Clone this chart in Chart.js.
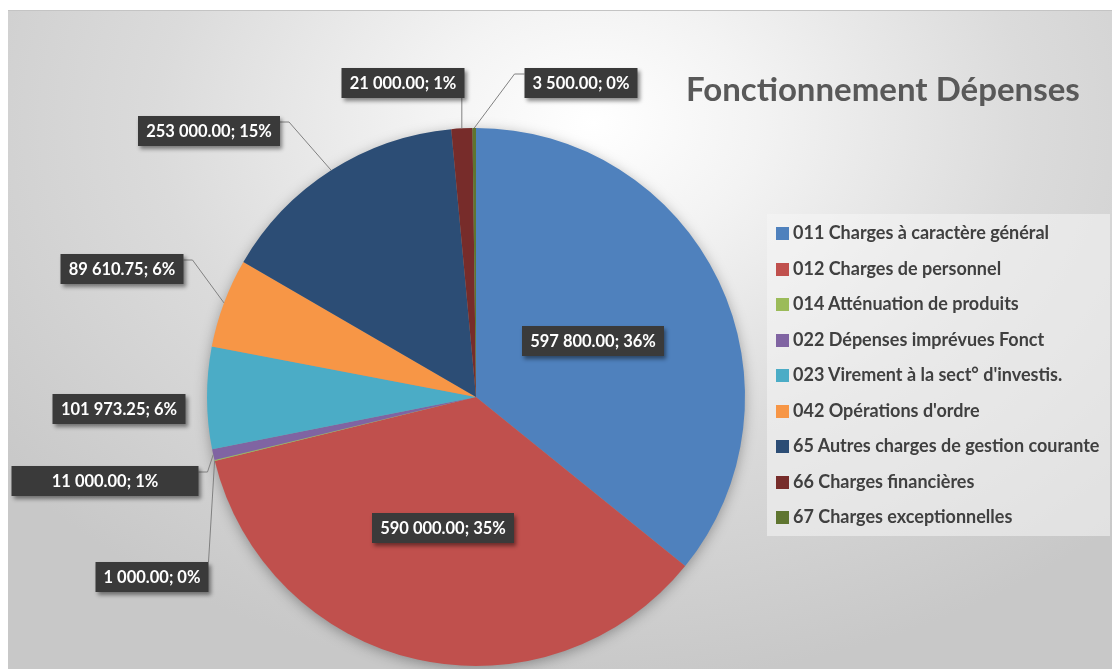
<!DOCTYPE html>
<html>
<head>
<meta charset="utf-8">
<script src="https://cdn.jsdelivr.net/npm/chart.js@4.4.0/dist/chart.umd.min.js"></script>
<style>
  html, body { margin: 0; padding: 0; background: #fff; }
  #wrap { position: relative; width: 1112px; height: 669px; overflow: hidden; font-family: Lato, "Open Sans", sans-serif; }
  #bg {
    position: absolute; left: 8px; top: 10px; width: 1104px; height: 659px;
    border-top: 1px solid #c4c4c4;
    background: radial-gradient(ellipse 68% 85% at 53% 17%, #ffffff 0%, #f3f3f3 22%, #dbdbdb 58%, #c8c8c8 100%);
  }
  #chart { position: absolute; left: 0; top: 0; }
  #title {
    position: absolute; left: 686px; top: 68px; font-size: 33px; font-weight: bold;
    color: #595959; line-height: 40px; white-space: nowrap;
  }
  #legend {
    position: absolute; left: 767px; top: 214px; width: 343px; height: 322px;
    background: rgba(246,246,246,0.55); padding-top: 1px; box-sizing: border-box;
  }
  .item { height: 35.5px; line-height: 35.5px; font-size: 18px; font-weight: bold; color: #404040; white-space: nowrap; }
  .sw { display: inline-block; width: 13px; height: 13px; margin: 0 4px 0 9px; vertical-align: -1px; }
</style>
</head>
<body>
<div id="wrap">
  <div id="bg"></div>
  <canvas id="chart" width="1112" height="669"></canvas>
  <div id="title">Fonctionnement Dépenses</div>
  <div id="legend"></div>
</div>
<script>
const categories = [
  "011 Charges à caractère général",
  "012 Charges de personnel",
  "014 Atténuation de produits",
  "022 Dépenses imprévues Fonct",
  "023 Virement à la sect° d'investis.",
  "042 Opérations d'ordre",
  "65 Autres charges de gestion courante",
  "66 Charges financières",
  "67 Charges exceptionnelles"
];
const values = [597800, 590000, 1000, 11000, 101973.25, 89610.75, 253000, 21000, 3500];
const percentLabels = [36, 35, 0, 1, 6, 6, 15, 1, 0];
const colors = ["#4f81bd", "#c0504d", "#9bbb59", "#8064a2", "#4bacc6", "#f79646", "#2c4d75", "#772c2a", "#5f7530"];

// label box centre relative to pie centre, and where the leader line leaves the box
const labelLayout = [
  { dx: 117, dy: -56, leader: "none" },
  { dx: -33, dy: 131, leader: "none" },
  { dx: -324, dy: 180, leader: "top" },
  { dx: -371, dy: 84, leader: "right", w: 187 },
  { dx: -357, dy: 12, leader: "none" },
  { dx: -354, dy: -128, leader: "right" },
  { dx: -267, dy: -266, leader: "right" },
  { dx: -73, dy: -314, leader: "bottom" },
  { dx: 105, dy: -314, leader: "left" }
];

function fmt(v) {
  const parts = v.toFixed(2).split(".");
  parts[0] = parts[0].replace(/\B(?=(\d{3})+(?!\d))/g, " ");
  return parts[0] + "." + parts[1];
}

// legend
const legendEl = document.getElementById("legend");
categories.forEach((c, i) => {
  const d = document.createElement("div");
  d.className = "item";
  d.innerHTML = `<span class="sw" style="background:${colors[i]}"></span>${c}`;
  legendEl.appendChild(d);
});

const pieShadow = {
  id: "pieShadow",
  beforeDatasetsDraw(chart) {
    const arc = chart.getDatasetMeta(0).data[0];
    if (!arc) return;
    const ctx = chart.ctx;
    ctx.save();
    ctx.shadowColor = "rgba(0,0,0,0.35)";
    ctx.shadowBlur = 14;
    ctx.shadowOffsetY = 3;
    ctx.fillStyle = "#999";
    ctx.beginPath();
    ctx.arc(arc.x, arc.y, arc.outerRadius - 1, 0, Math.PI * 2);
    ctx.fill();
    ctx.restore();
  }
};

const dataLabels = {
  id: "dataLabels",
  afterDatasetsDraw(chart) {
    const ctx = chart.ctx;
    const arcs = chart.getDatasetMeta(0).data;
    ctx.save();
    ctx.font = "bold 16.5px Lato, 'Open Sans', sans-serif";
    const boxes = arcs.map((arc, i) => {
      const p = arc.getProps(["x", "y", "startAngle", "endAngle", "outerRadius"], true);
      const lay = labelLayout[i];
      const text = fmt(values[i]) + "; " + percentLabels[i] + "%";
      const w = lay.w || Math.ceil(ctx.measureText(text).width) + 16;
      const h = 30;
      const cx = p.x + lay.dx, cy = p.y + lay.dy;
      const mid = (p.startAngle + p.endAngle) / 2;
      const ax = p.x + Math.cos(mid) * p.outerRadius;
      const ay = p.y + Math.sin(mid) * p.outerRadius;
      return { text, w, h, cx, cy, ax, ay, leader: lay.leader };
    });

    // leader lines
    ctx.strokeStyle = "#808080";
    ctx.lineWidth = 1;
    boxes.forEach(b => {
      const l = b.cx - b.w / 2, r = b.cx + b.w / 2, t = b.cy - b.h / 2, bt = b.cy + b.h / 2;
      ctx.beginPath();
      if (b.leader === "right") {
        ctx.moveTo(r, t + 6); ctx.lineTo(r + 9, t + 6); ctx.lineTo(b.ax, b.ay);
      } else if (b.leader === "left") {
        ctx.moveTo(l, t + 6); ctx.lineTo(l - 10, t + 6); ctx.lineTo(b.ax, b.ay);
      } else if (b.leader === "bottom") {
        ctx.moveTo(b.ax, bt); ctx.lineTo(b.ax, b.ay);
      } else if (b.leader === "top") {
        ctx.moveTo(r, t); ctx.lineTo(b.ax, b.ay);
      } else {
        return;
      }
      ctx.stroke();
    });

    // boxes
    boxes.forEach(b => {
      ctx.save();
      ctx.shadowColor = "rgba(0,0,0,0.45)";
      ctx.shadowBlur = 4;
      ctx.shadowOffsetX = 2;
      ctx.shadowOffsetY = 3;
      ctx.fillStyle = "#3a3a3a";
      ctx.fillRect(b.cx - b.w / 2, b.cy - b.h / 2, b.w, b.h);
      ctx.restore();
      ctx.fillStyle = "#ffffff";
      ctx.textAlign = "center";
      ctx.textBaseline = "middle";
      ctx.fillText(b.text, b.cx, b.cy + 1);
    });
    ctx.restore();
  }
};

new Chart(document.getElementById("chart"), {
  type: "pie",
  data: {
    labels: categories,
    datasets: [{
      data: values,
      backgroundColor: colors,
      borderWidth: 0
    }]
  },
  options: {
    responsive: false,
    animation: false,
    devicePixelRatio: 1,
    layout: { padding: { left: 207, right: 367, top: 128, bottom: 3 } },
    plugins: {
      legend: { display: false },
      tooltip: { enabled: false },
      title: { display: false }
    }
  },
  plugins: [pieShadow, dataLabels]
});
</script>
</body>
</html>
